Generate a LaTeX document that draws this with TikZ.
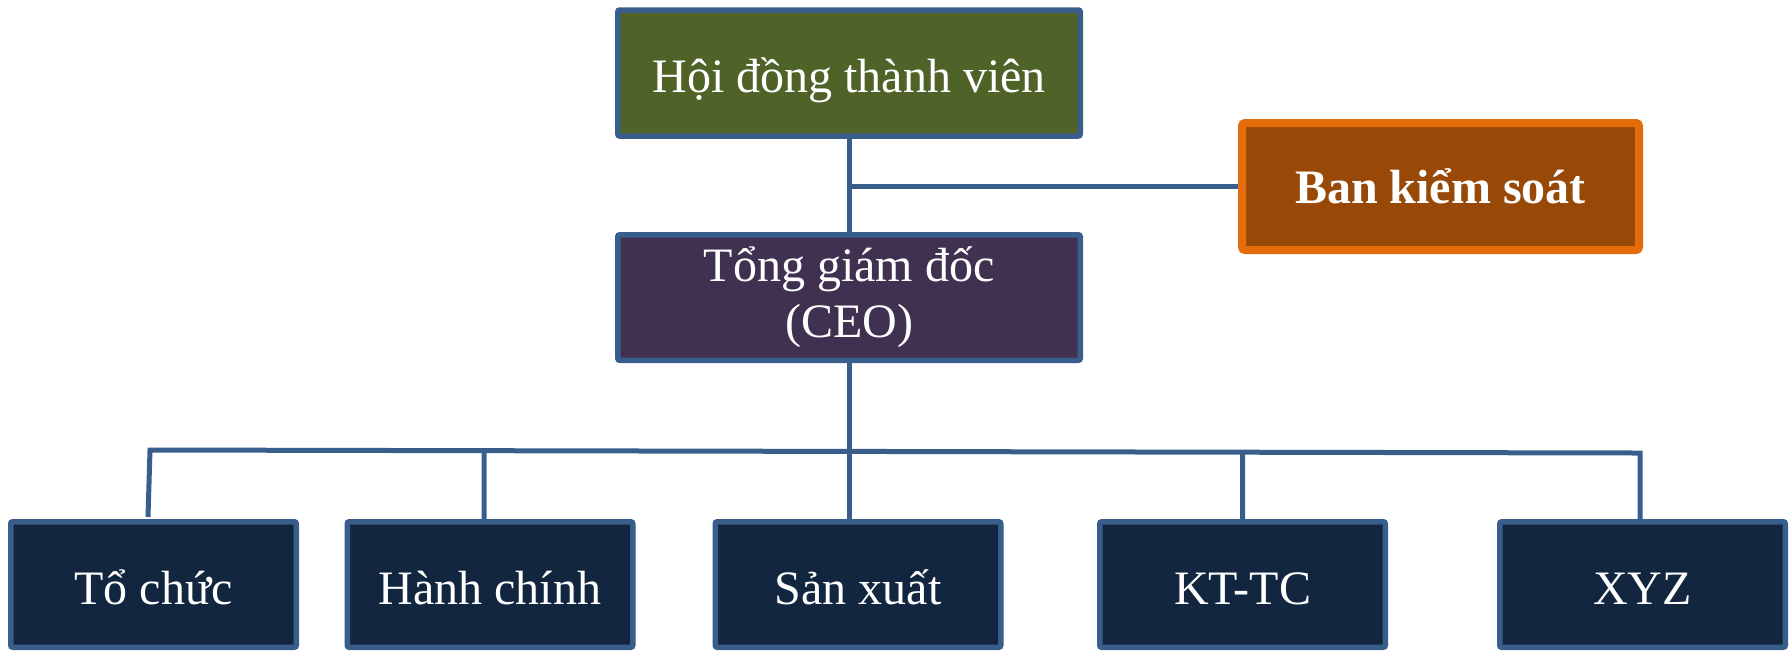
\documentclass[tikz,border=0pt]{standalone}
\usepackage{fontspec}
\setmainfont{Liberation Serif}
\usetikzlibrary{calc,backgrounds}

\definecolor{linkblue}{HTML}{3A5E8C}
\definecolor{boardgreen}{HTML}{4F6228}
\definecolor{ceopurple}{HTML}{403151}
\definecolor{auditbrown}{HTML}{984807}
\definecolor{auditorange}{HTML}{E46C0A}
\definecolor{deptnavy}{HTML}{122640}

\tikzset{
  orgbox/.style={draw=linkblue, line width=2.75pt, rounded corners=1pt,
    text=white, inner sep=0pt, align=center,
    font=\fontsize{24}{28}\selectfont},
  topbox/.style={orgbox, minimum width=231.25pt, minimum height=63pt},
  deptbox/.style={orgbox, fill=deptnavy, minimum width=142.75pt,
    minimum height=62.75pt, text height=22pt, text depth=2.5pt},
  auditbox/.style={draw=auditorange, fill=auditbrown, line width=4pt,
    rounded corners=1.5pt, text=white, inner sep=0pt,
    minimum width=198.5pt, minimum height=63.5pt,
    font=\fontsize{24}{28}\selectfont\bfseries},
  conn/.style={draw=linkblue, line width=2.5pt}
}

\begin{document}
\begin{tikzpicture}[x=0.5pt, y=-0.5pt]
  \useasboundingbox (0,0) rectangle (1791,650);

  % upper levels
  \node[topbox, fill=boardgreen, text height=22pt, text depth=2.5pt] (hd) at (849,73) {Hội đồng thành viên};
  \node[topbox, fill=ceopurple, minimum height=62.75pt] (ceo) at (849,297.5) {Tổng giám đốc\\(CEO)};
  \node[auditbox] (bks) at (1440.5,186.5) {Ban kiểm soát};

  % departments
  \node[deptbox] (tc)  at (153.5,584.5) {Tổ chức};
  \node[deptbox] (hc)  at (490,584.5)   {Hành chính};
  \node[deptbox] (sx)  at (858,584.5)   {Sản xuất};
  \node[deptbox] (kt)  at (1242.5,584.5) {KT-TC};
  \node[deptbox] (xyz) at (1642.5,584.5) {XYZ};

  % connectors
  \coordinate (busL) at (150,450);
  \coordinate (busR) at (1640,453);
  \coordinate (tcEnd) at (148,517);
  \begin{pgfonlayer}{background}
    \draw[conn] (hd.south) -- (ceo.north);
    \draw[conn] (ceo.north |- bks.west) -- (bks.west);
    \draw[conn] (ceo.south) -- (ceo.south |- sx.north);
    \draw[conn] (tcEnd) -- (busL) -- (busR) -- (busR |- xyz.north);
    \draw[conn] ([xshift=-3pt]hc.north) -- ($(busL)!([xshift=-3pt]hc.north)!(busR)$);
    \draw[conn] (kt.north) -- ($(busL)!(kt.north)!(busR)$);
  \end{pgfonlayer}
\end{tikzpicture}
\end{document}
